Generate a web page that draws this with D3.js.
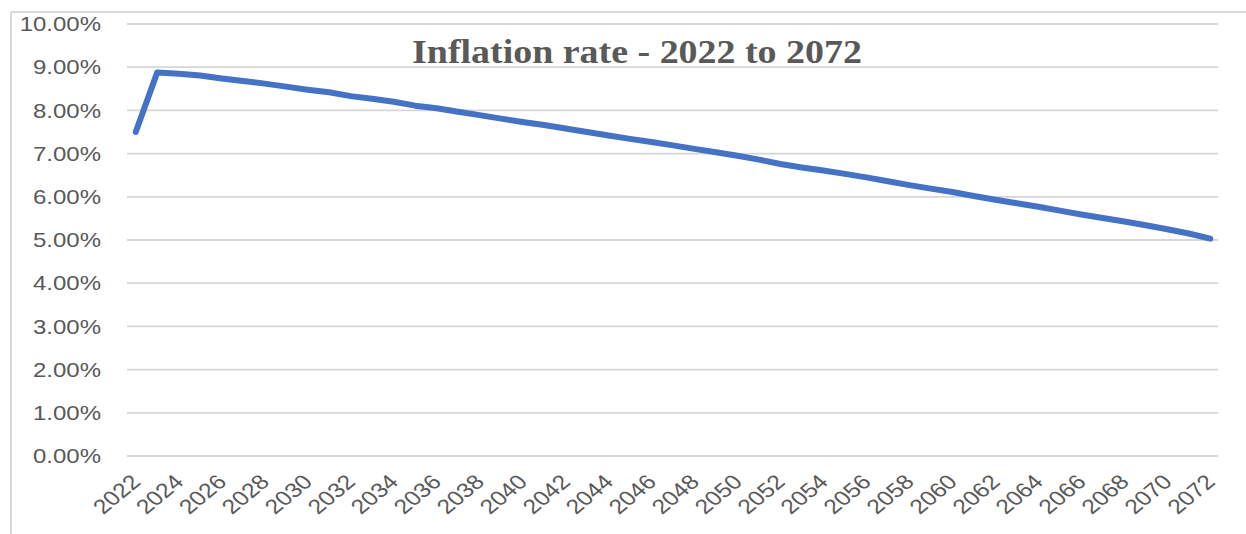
<!DOCTYPE html>
<html>
<head>
<meta charset="utf-8">
<script src="https://cdn.jsdelivr.net/npm/d3@7"></script>
<style>
  html, body { margin: 0; padding: 0; background: #fff; }
  svg { display: block; }
</style>
</head>
<body>
<svg id="chart" width="1246" height="534"></svg>
<script>
const titleText = "Inflation rate - 2022 to 2072";
const years = d3.range(2022, 2073);
const inflation = [
  7.50, 8.88, 8.85, 8.81, 8.74, 8.68, 8.62, 8.55, 8.48, 8.42,
  8.33, 8.27, 8.20, 8.11, 8.05, 7.97, 7.89, 7.81, 7.73, 7.66,
  7.58, 7.50, 7.42, 7.34, 7.27, 7.19, 7.11, 7.03, 6.95, 6.86,
  6.76, 6.68, 6.61, 6.53, 6.45, 6.36, 6.27, 6.19, 6.11, 6.02,
  5.93, 5.85, 5.77, 5.68, 5.59, 5.51, 5.43, 5.34, 5.25, 5.15,
  5.03
];
const yTicks = [0, 1, 2, 3, 4, 5, 6, 7, 8, 9, 10];
const xTickYears = years.filter(y => (y - 2022) % 2 === 0);

const svg = d3.select("#chart");
const grey = "#595959";
const sx = 1.2;

// frame (left and top border)
svg.append("line").attr("x1", 11).attr("y1", 12).attr("x2", 11).attr("y2", 534)
  .attr("stroke", "#d9d9d9").attr("stroke-width", 2);
svg.append("line").attr("x1", 11).attr("y1", 12).attr("x2", 1246).attr("y2", 12)
  .attr("stroke", "#d9d9d9").attr("stroke-width", 2);

const x = d3.scalePoint().domain(years).range([125, 1221]).padding(0.5);
const y = d3.scaleLinear().domain([0, 10]).range([456, 24]);
const gridX0 = 127, gridX1 = 1218;

// gridlines
svg.append("g").selectAll("line").data(yTicks).join("line")
  .attr("x1", gridX0).attr("x2", gridX1)
  .attr("y1", d => y(d)).attr("y2", d => y(d))
  .attr("stroke", "#d6d6d6").attr("stroke-width", 1.8);

// y labels
svg.append("g").selectAll("text").data(yTicks).join("text")
  .attr("transform", d => `translate(101,${y(d)}) scale(${sx},1)`)
  .attr("dy", "0.36em")
  .attr("text-anchor", "end")
  .attr("font-family", "'Liberation Sans', Arial, sans-serif")
  .attr("font-size", 20)
  .attr("fill", grey)
  .text(d => d.toFixed(2) + "%");

// x labels
svg.append("g").selectAll("text").data(xTickYears).join("text")
  .attr("transform", d => `translate(${x(d)},478) scale(${sx},1) rotate(-45)`)
  .attr("dy", "0.35em")
  .attr("text-anchor", "end")
  .attr("font-family", "'Liberation Sans', Arial, sans-serif")
  .attr("font-size", 20.5)
  .attr("fill", grey)
  .text(d => d);

// line
const line = d3.line().x((d, i) => x(years[i])).y(d => y(d));
svg.append("path").datum(inflation)
  .attr("d", line)
  .attr("fill", "none")
  .attr("stroke", "#4472C4")
  .attr("stroke-width", 6)
  .attr("stroke-linejoin", "round")
  .attr("stroke-linecap", "round");

// title
svg.append("text")
  .attr("transform", `translate(637,63) scale(1.15,1)`)
  .attr("text-anchor", "middle")
  .attr("font-family", "'Liberation Serif', 'Times New Roman', serif")
  .attr("font-weight", "bold")
  .attr("font-size", 33)
  .attr("fill", grey)
  .text(titleText);
</script>
</body>
</html>
